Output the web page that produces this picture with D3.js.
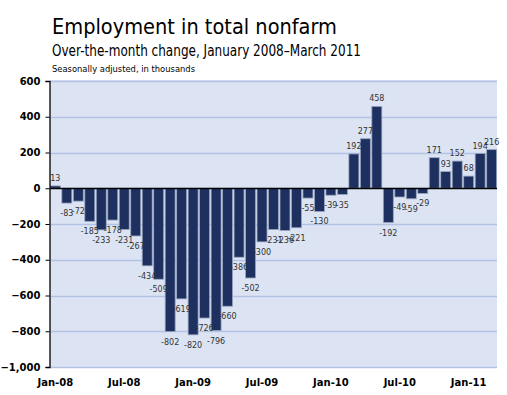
<!DOCTYPE html>
<meta charset="utf-8">
<script src="https://d3js.org/d3.v7.min.js"></script>
<style>
  body { margin: 0; background: #fff; }
  text { font-family: "DejaVu Sans", Verdana, sans-serif; }
</style>
<div id="chart"></div>
<script>
  // monthly over-the-month change, Jan 2008 - Mar 2011 (thousands)
  var months = [
    "2008-01","2008-02","2008-03","2008-04","2008-05","2008-06","2008-07","2008-08","2008-09","2008-10","2008-11","2008-12",
    "2009-01","2009-02","2009-03","2009-04","2009-05","2009-06","2009-07","2009-08","2009-09","2009-10","2009-11","2009-12",
    "2010-01","2010-02","2010-03","2010-04","2010-05","2010-06","2010-07","2010-08","2010-09","2010-10","2010-11","2010-12",
    "2011-01","2011-02","2011-03"
  ];
  var values = [
    13, -83, -72, -185, -233, -178, -231, -267, -434, -509, -802, -619,
    -820, -726, -796, -660, -386, -502, -300, -231, -236, -221, -55, -130,
    -39, -35, 192, 277, 458, -192, -49, -59, -29, 171, 93, 152,
    68, 194, 216
  ];
  var xTicks = ["2008-01","2008-07","2009-01","2009-07","2010-01","2010-07","2011-01"];
  var xTickLabels = ["Jan-08","Jul-08","Jan-09","Jul-09","Jan-10","Jul-10","Jan-11"];
  var yTicks = [600, 400, 200, 0, -200, -400, -600, -800, -1000];

  var data = months.map(function (m, i) { return { month: m, value: values[i] }; });

  var W = 507, H = 395;
  var margin = { top: 81, right: 10, bottom: 28, left: 50 },
    width = 497 - margin.left,
    height = 367 - margin.top;

  var svg = d3.select("#chart").append("svg")
    .attr("width", W).attr("height", H);

  // titles
  svg.append("text").attr("x", 52).attr("y", 34)
    .attr("font-size", 22).attr("fill", "#000")
    .attr("textLength", 285).attr("lengthAdjust", "spacingAndGlyphs")
    .text("Employment in total nonfarm");
  svg.append("text").attr("x", 52).attr("y", 56)
    .attr("font-size", 15).attr("fill", "#000")
    .attr("textLength", 309).attr("lengthAdjust", "spacingAndGlyphs")
    .text("Over-the-month change, January 2008\u2013March 2011");
  svg.append("text").attr("x", 52).attr("y", 72)
    .attr("font-size", 9).attr("fill", "#000")
    .attr("textLength", 143).attr("lengthAdjust", "spacingAndGlyphs")
    .text("Seasonally adjusted, in thousands");

  var g = svg.append("g")
    .attr("transform", "translate(" + margin.left + "," + margin.top + ")");

  var x = d3.scaleBand()
    .domain(months)
    .range([0, width])
    .paddingInner(0.13)
    .paddingOuter(0.03);

  var y = d3.scaleLinear()
    .domain([-1000, 600])
    .range([height, 0]);

  // plot background
  g.append("rect")
    .attr("x", 0).attr("y", -1)
    .attr("width", width).attr("height", height + 1)
    .attr("fill", "#dce4f4");

  // gridlines
  g.append("g")
    .selectAll("line")
    .data(yTicks.filter(function (d) { return d !== 0; }))
    .enter().append("line")
    .attr("x1", 0).attr("x2", width)
    .attr("y1", function (d) { return Math.round(y(d)) + 0.5; })
    .attr("y2", function (d) { return Math.round(y(d)) + 0.5; })
    .attr("stroke", "#b3c2e4").attr("stroke-width", 1.3);

  // bars
  g.append("g")
    .selectAll("rect")
    .data(data)
    .enter().append("rect")
    .attr("x", function (d) { return x(d.month); })
    .attr("width", x.bandwidth())
    .attr("y", function (d) { return y(Math.max(0, d.value)); })
    .attr("height", function (d) { return Math.abs(y(d.value) - y(0)); })
    .attr("fill", "#1d3060")
    .attr("stroke", "#9aa6bf")
    .attr("stroke-width", 0.8);

  // zero line
  g.append("line")
    .attr("x1", 0).attr("x2", width)
    .attr("y1", Math.round(y(0)) + 0.5).attr("y2", Math.round(y(0)) + 0.5)
    .attr("stroke", "#000").attr("stroke-width", 1.3);

  // data labels
  g.append("g")
    .selectAll("text")
    .data(data)
    .enter().append("text")
    .attr("x", function (d) { return x(d.month) + x.bandwidth() / 2; })
    .attr("y", function (d) { return d.value >= 0 ? y(d.value) - 5 : y(d.value) + 13; })
    .attr("text-anchor", "middle")
    .attr("font-family", "'DejaVu Sans Condensed', 'DejaVu Sans', sans-serif")
    .attr("font-size", 8)
    .attr("fill", "#333")
    .text(function (d) { return d.value; });

  // y axis
  var yAxis = g.append("g")
    .attr("transform", "translate(-0.5,0)")
    .call(d3.axisLeft(y).tickValues(yTicks).tickSize(4).tickFormat(d3.format(",")));
  yAxis.select(".domain").attr("stroke", "#000").attr("stroke-width", 1.3);
  yAxis.selectAll("text")
    .attr("font-family", "DejaVu Sans, sans-serif")
    .attr("font-size", 10).attr("font-weight", "bold").attr("fill", "#000")
    .attr("x", -9);

  // x axis labels
  g.append("g")
    .selectAll("text")
    .data(xTicks)
    .enter().append("text")
    .attr("x", function (d) { return x(d) + x.bandwidth() / 2; })
    .attr("y", height + 19)
    .attr("text-anchor", "middle")
    .attr("font-size", 10).attr("font-weight", "bold").attr("fill", "#000")
    .text(function (d, i) { return xTickLabels[i]; });
</script>
